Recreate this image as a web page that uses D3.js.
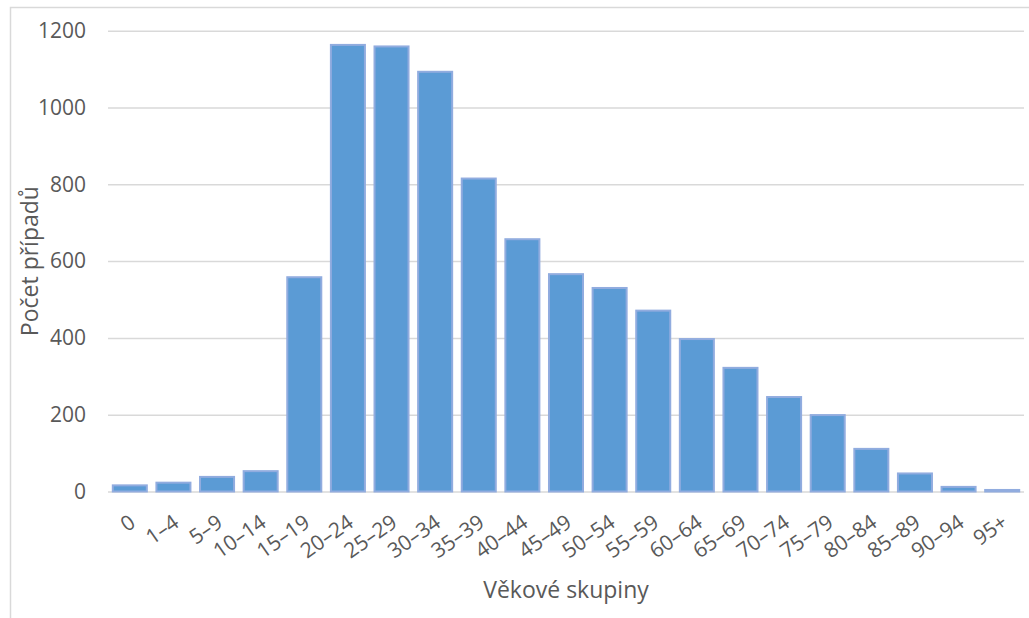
<!DOCTYPE html>
<html>
<head>
<meta charset="utf-8">
<script src="https://cdn.jsdelivr.net/npm/d3@7"></script>
<style>
  html, body { margin: 0; padding: 0; background: #fff; }
  svg { display: block; }
  text { font-family: "Open Sans", "Noto Sans", sans-serif; fill: #595959; }
</style>
</head>
<body>
<svg id="chart" width="1029" height="618"></svg>
<script>
// Age groups and number of cases
const categories = ["0", "1–4", "5–9", "10–14", "15–19", "20–24", "25–29", "30–34", "35–39",
  "40–44", "45–49", "50–54", "55–59", "60–64", "65–69", "70–74", "75–79", "80–84",
  "85–89", "90–94", "95+"];
const cases = [16, 23, 38, 53, 558, 1163, 1159, 1093, 815, 657, 566, 530, 471, 397, 322,
  246, 199, 111, 47, 12, 4];
const yTicks = [0, 200, 400, 600, 800, 1000, 1200];
const xTitle = "Věkové skupiny";
const yTitle = "Počet případů";

const svg = d3.select("#chart");
const W = 1029, H = 618;
const plot = { left: 108, right: 1024, top: 30.7, bottom: 491.5 };

// Outer chart frame (only the top and left edges fall inside the view)
svg.append("path")
  .attr("d", `M10.5,${H} V7.5 H${W}`)
  .attr("fill", "none")
  .attr("stroke", "#d9d9d9")
  .attr("stroke-width", 1.5);

const x = d3.scaleBand()
  .domain(categories)
  .range([plot.left, plot.right])
  .paddingInner(0.22)
  .paddingOuter(0.11);

const y = d3.scaleLinear()
  .domain([0, 1200])
  .range([plot.bottom, plot.top]);

// Horizontal gridlines + value labels
const yAxis = d3.axisLeft(y)
  .tickValues(yTicks)
  .tickSize(-(plot.right - plot.left))
  .tickPadding(22)
  .tickFormat(d3.format("d"));

const gy = svg.append("g")
  .attr("transform", `translate(${plot.left},0)`)
  .call(yAxis);
gy.select(".domain").remove();
gy.selectAll(".tick line").attr("stroke", "#d9d9d9").attr("stroke-width", 1.5);
gy.selectAll(".tick text")
  .attr("font-size", 21)
  .attr("fill", "#595959")
  .style("font-family", "'Open Sans', sans-serif");

// Bars
svg.append("g")
  .selectAll("rect")
  .data(cases)
  .join("rect")
  .attr("x", (d, i) => x(categories[i]))
  .attr("y", d => y(d))
  .attr("width", x.bandwidth())
  .attr("height", d => y(0) - y(d))
  .attr("fill", "#5b9bd5")
  .attr("stroke", "#91acdf")
  .attr("stroke-width", 2);

// Category axis labels, rotated
const xAxis = d3.axisBottom(x).tickSize(0).tickPadding(0);
const gx = svg.append("g")
  .attr("transform", `translate(0,${plot.bottom})`)
  .call(xAxis);
gx.select(".domain").remove();
gx.selectAll(".tick text")
  .attr("font-size", 21)
  .attr("fill", "#595959")
  .style("font-family", "'Open Sans', sans-serif")
  .attr("text-anchor", "end")
  .attr("dy", 0)
  .attr("transform", "translate(7,34) rotate(-35)");

// Axis titles
svg.append("text")
  .attr("x", (plot.left + plot.right) / 2)
  .attr("y", 598)
  .attr("text-anchor", "middle")
  .attr("font-size", 23)
  .text(xTitle);

svg.append("text")
  .attr("transform", `translate(38,${(plot.top + plot.bottom) / 2}) rotate(-90)`)
  .attr("text-anchor", "middle")
  .attr("font-size", 23)
  .text(yTitle);
</script>
</body>
</html>
